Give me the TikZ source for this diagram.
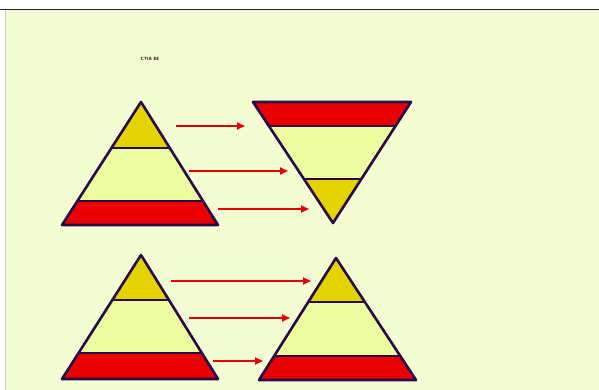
\documentclass[tikz,border=0pt]{standalone}
\usepackage{tikz}
\usetikzlibrary{arrows.meta,calc}
\definecolor{pageback}{RGB}{243,252,210}
\definecolor{lvlyellow}{RGB}{227,211,0}
\definecolor{lvllight}{RGB}{238,252,160}
\definecolor{lvlred}{RGB}{232,0,0}
\definecolor{outline}{RGB}{40,10,70}
\definecolor{arrowred}{RGB}{230,0,0}

\begin{document}
\begin{tikzpicture}[x=1pt,y=-1pt,
  edge/.style ={draw=outline,line width=2.6pt,line join=round},
  band/.style ={draw=outline,line width=2.2pt},
  move/.style ={draw=arrowred,line width=1.8pt,-{Triangle[length=8pt,width=7pt]}},
  captext/.style={font=\fontsize{4.5}{5}\selectfont\sffamily\bfseries,inner sep=0pt}]

% ---------- page ----------
\useasboundingbox (0,0) rectangle (599,390);
\fill[white] (0,0) rectangle (599,390);
\fill[pageback] (6,10) rectangle (599,390);
\draw[black!85,line width=1.2pt] (0,9.5) -- (599,9.5);
\draw[black!20,line width=0.8pt] (5.5,10) -- (5.5,390);
\node[captext] (title) at (150,59) {CTIA EE};

% ---------- top left : pyramid ----------
\coordinate (p1a) at (141,102);
\coordinate (p1l) at (62,225);
\coordinate (p1r) at (218,225);
\begin{scope}
\clip (p1a) -- (p1l) -- (p1r) -- cycle;
\fill[lvlyellow] (55,98) rectangle (225,148);
\fill[lvllight]  (55,148) rectangle (225,201);
\fill[lvlred]    (55,201) rectangle (225,230);
\draw[band] (55,148) -- (225,148);
\draw[band] (55,201) -- (225,201);
\end{scope}
\draw[edge] (p1a) -- (p1l) -- (p1r) -- cycle;

% ---------- top right : inverted pyramid ----------
\coordinate (p2l) at (253,102);
\coordinate (p2r) at (411,102);
\coordinate (p2b) at (333,223);
\begin{scope}
\clip (p2l) -- (p2r) -- (p2b) -- cycle;
\fill[lvlred]    (245,98) rectangle (420,126);
\fill[lvllight]  (245,126) rectangle (420,179);
\fill[lvlyellow] (245,179) rectangle (420,228);
\draw[band] (245,126) -- (420,126);
\draw[band] (245,179) -- (420,179);
\end{scope}
\draw[edge] (p2l) -- (p2r) -- (p2b) -- cycle;

% ---------- bottom left : pyramid ----------
\coordinate (p3a) at (141,255);
\coordinate (p3l) at (62,379);
\coordinate (p3r) at (218,379);
\begin{scope}
\clip (p3a) -- (p3l) -- (p3r) -- cycle;
\fill[lvlyellow] (55,250) rectangle (225,300);
\fill[lvllight]  (55,300) rectangle (225,353);
\fill[lvlred]    (55,353) rectangle (225,385);
\draw[band] (55,300) -- (225,300);
\draw[band] (55,353) -- (225,353);
\end{scope}
\draw[edge] (p3a) -- (p3l) -- (p3r) -- cycle;

% ---------- bottom right : pyramid ----------
\coordinate (p4a) at (336,258);
\coordinate (p4l) at (259,380);
\coordinate (p4r) at (416,380);
\begin{scope}
\clip (p4a) -- (p4l) -- (p4r) -- cycle;
\fill[lvlyellow] (250,252) rectangle (425,302);
\fill[lvllight]  (250,302) rectangle (425,356);
\fill[lvlred]    (250,356) rectangle (425,386);
\draw[band] (250,302) -- (425,302);
\draw[band] (250,356) -- (425,356);
\end{scope}
\draw[edge] (p4a) -- (p4l) -- (p4r) -- cycle;

% ---------- arrows ----------
\coordinate (a1s) at (176,126); \coordinate (a1e) at (245,126);
\coordinate (a2s) at (189,171); \coordinate (a2e) at (288,171);
\coordinate (a3s) at (218,209); \coordinate (a3e) at (309,209);
\coordinate (b1s) at (171,281); \coordinate (b1e) at (311,281);
\coordinate (b2s) at (189,318); \coordinate (b2e) at (290,318);
\coordinate (b3s) at (213,361); \coordinate (b3e) at (263,361);
\draw[move] (a1s) -- (a1e);
\draw[move] (a2s) -- (a2e);
\draw[move] (a3s) -- (a3e);
\draw[move] (b1s) -- (b1e);
\draw[move] (b2s) -- (b2e);
\draw[move] (b3s) -- (b3e);

\end{tikzpicture}
\end{document}
